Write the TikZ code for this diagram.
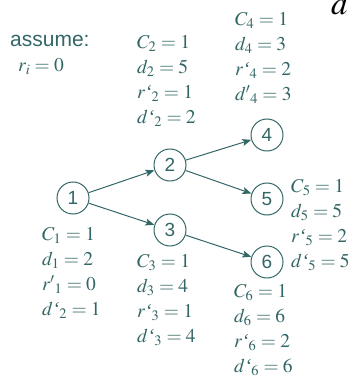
\documentclass[tikz,border=0pt]{standalone}
\usepackage{mathptmx}
\usepackage[no-math]{fontspec}
\setmainfont{Liberation Sans}
\newfontfamily\serif{Liberation Serif}
\usetikzlibrary{arrows.meta}
\definecolor{verdeazul}{RGB}{51,102,102}
\newcommand{\cq}{\mbox{\serif\itshape ‘}}

\tikzset{
  nodo/.style={circle,draw=verdeazul,line width=1pt,minimum size=32pt,
    inner sep=0pt,text=verdeazul,font=\fontsize{19}{21}\selectfont},
  valores/.style={text=verdeazul,anchor=north west,align=left,inner sep=0pt,
    font=\fontsize{19.5}{25}\selectfont},
  flecha/.style={draw=verdeazul,line width=1pt,-{Stealth[length=9pt,width=7pt,inset=2pt]}}
}

\begin{document}
\begin{tikzpicture}[x=1pt,y=-1pt]
  \useasboundingbox (0,0) rectangle (350,379);

  % nodos del grafo
  \node[nodo] (n1) at (73,198) {1};
  \node[nodo] (n2) at (170,165) {2};
  \node[nodo] (n3) at (170,230) {3};
  \node[nodo] (n4) at (267,135) {4};
  \node[nodo] (n5) at (267,199) {5};
  \node[nodo] (n6) at (267,262) {6};

  \draw[flecha] (n1) -- (n2);
  \draw[flecha] (n1) -- (n3);
  \draw[flecha] (n2) -- (n4);
  \draw[flecha] (n2) -- (n5);
  \draw[flecha] (n3) -- (n6);

  % valores
  \node[text=verdeazul,anchor=base west,inner sep=0pt,font=\fontsize{21}{25}\selectfont]
    (asume) at (10,47) {assume:};
  \node[text=verdeazul,anchor=base west,inner sep=0pt,font=\fontsize{19.5}{25}\selectfont]
    (ri) at (18,72) {$r_i=0$};
  \node[valores] (v1) at (42,227)
    {$C_1=1$\\ $d_1=2$\\ $r{'}_1=0$\\ $d\cq_2=1$};
  \node[valores] (v2) at (137,35)
    {$C_2=1$\\ $d_2=5$\\ $r\cq_2=1$\\ $d\cq_2=2$};
  \node[valores] (v3) at (137,254)
    {$C_3=1$\\ $d_3=4$\\ $r\cq_3=1$\\ $d\cq_3=4$};
  \node[valores] (v4) at (235,12)
    {$C_4=1$\\ $d_4=3$\\ $r\cq_4=2$\\ $d{'}_4=3$};
  \node[valores] (v5) at (291,179)
    {$C_5=1$\\ $d_5=5$\\ $r\cq_5=2$\\ $d\cq_5=5$};
  \node[valores] (v6) at (234,284)
    {$C_6=1$\\ $d_6=6$\\ $r\cq_6=2$\\ $d\cq_6=6$};

  \node[anchor=base west,inner sep=0pt,font=\fontsize{33}{36}\selectfont]
    (dd) at (331,15) {$d$};
\end{tikzpicture}
\end{document}
